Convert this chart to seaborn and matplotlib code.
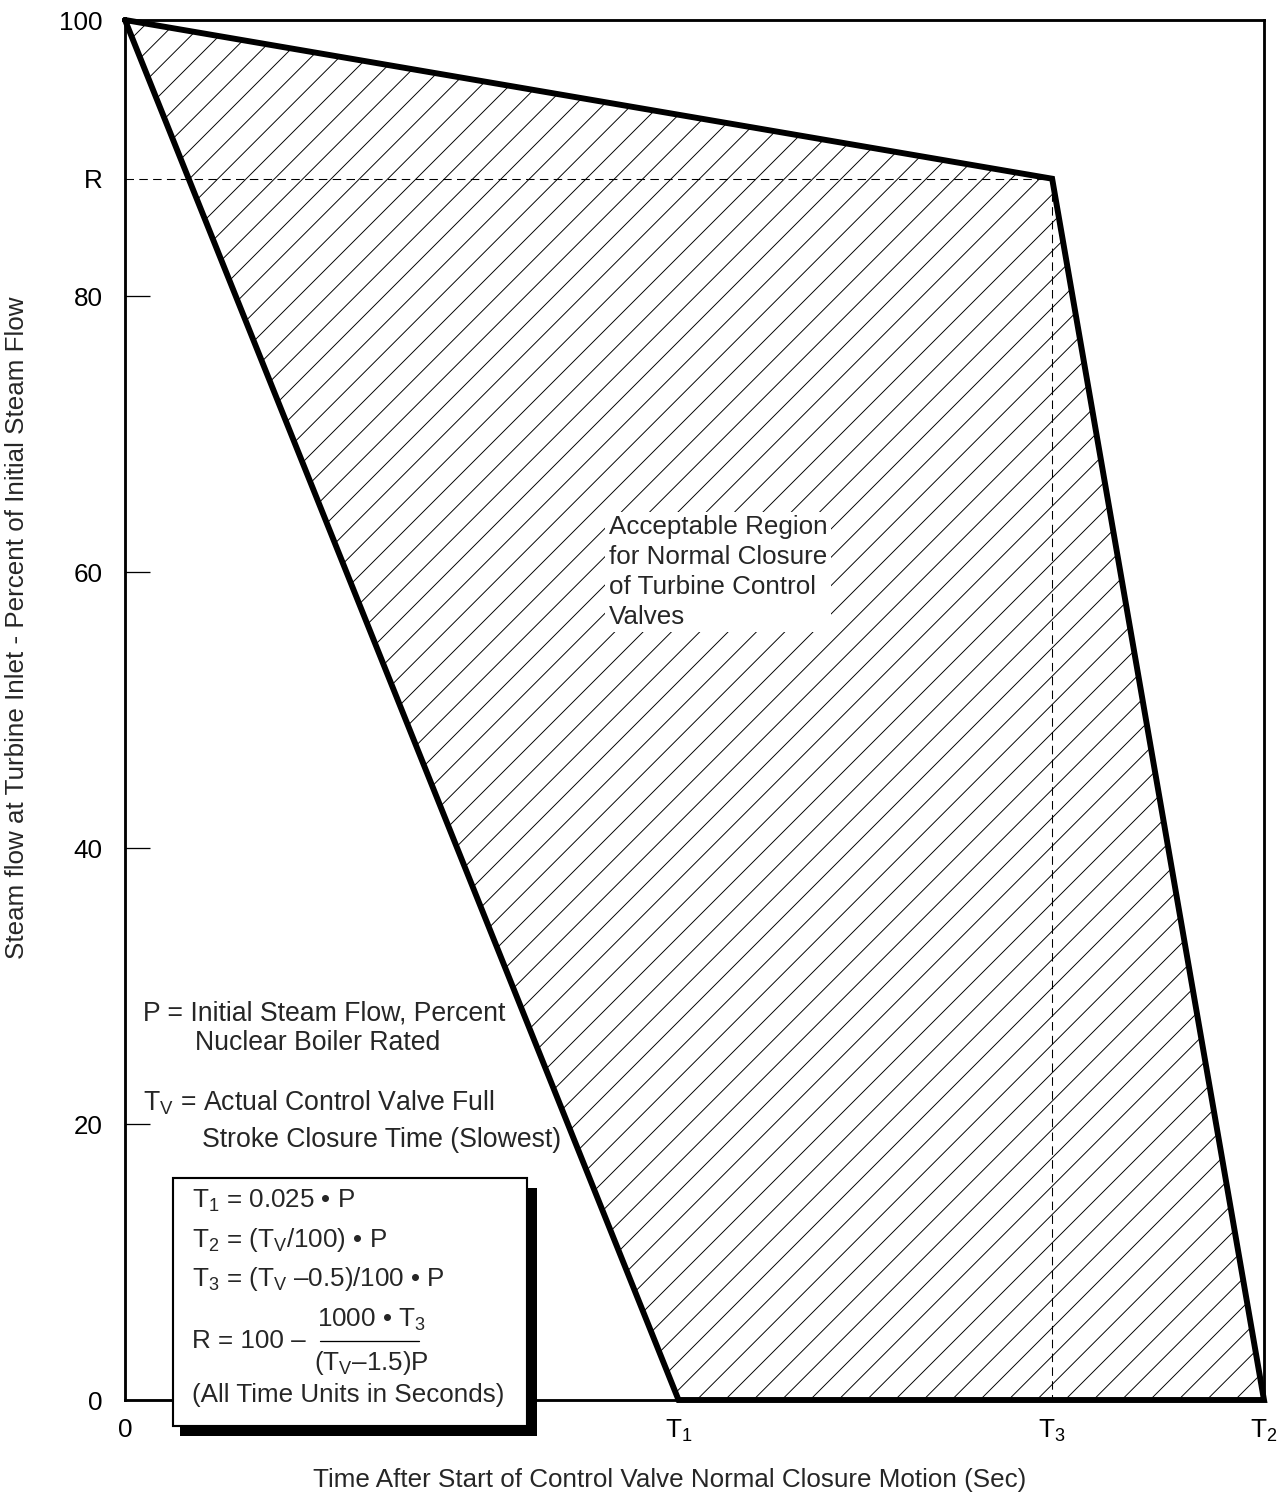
import numpy as np
import pandas as pd
import matplotlib
matplotlib.use('Agg')
import matplotlib.pyplot as plt
import matplotlib.patches as mpatches
import seaborn as sns

# schematic time points (sec) and flow breakpoint R (%)
t1 = 2.43
t3 = 4.07
t2 = 5.0
r_val = 88.5

region_x = [0, t3, t2, t1]
region_y = [100, r_val, 0, 0]

ytick_vals = [0, 20, 40, 60, 80, r_val, 100]
ytick_labels = ['0', '20', '40', '60', '80', 'R', '100']
xtick_vals = [0, t1, t3, t2]
xtick_labels = ['0', 'T$_1$', 'T$_3$', 'T$_2$']

sns.set_theme(style='ticks')
plt.rcParams['font.family'] = ['Liberation Sans', 'DejaVu Sans']
plt.rcParams['mathtext.fontset'] = 'custom'
plt.rcParams['mathtext.rm'] = 'Liberation Sans'
plt.rcParams['mathtext.default'] = 'regular'
plt.rcParams['hatch.color'] = 'black'
plt.rcParams['hatch.linewidth'] = 0.8

DPI = 85
FS = 22
FS2 = 22.5
fig = plt.figure(figsize=(1281 / DPI, 1500 / DPI), dpi=DPI)
ax = fig.add_axes([125 / 1281, 100 / 1500, 1139 / 1281, 1380 / 1500])

# hatched acceptable region
ax.fill(region_x, region_y, facecolor='white', edgecolor='black', lw=0,
        hatch='/', zorder=1)
df = pd.DataFrame({'t': region_x + [region_x[0]], 'flow': region_y + [region_y[0]]})
sns.lineplot(data=df, x='t', y='flow', sort=False, estimator=None, color='black',
             lw=5, ax=ax, zorder=5, clip_on=False)
for ln in ax.lines:
    ln.set_solid_joinstyle('miter')

# dashed guide lines at R and T3
ax.plot([0, t3], [r_val, r_val], color='black', lw=0.9, ls=(0, (8, 5)), zorder=3)
ax.plot([t3, t3], [r_val, 0], color='black', lw=0.9, ls=(0, (8, 5)), zorder=3)

ax.set_xlim(0, t2)
ax.set_ylim(0, 100)
ax.set_xlabel('')
ax.set_ylabel('')

ax.set_yticks(ytick_vals)
ax.set_yticklabels(ytick_labels, fontsize=FS)
ax.set_xticks(xtick_vals)
ax.set_xticklabels(xtick_labels, fontsize=FS)
ax.tick_params(axis='y', direction='in', length=21, width=1.1, pad=19, colors='black')
ax.tick_params(axis='x', length=0, pad=15, colors='black')
for i, v in enumerate(ytick_vals):
    if v in (0, r_val, 100):
        ax.yaxis.get_major_ticks()[i].tick1line.set_visible(False)

for s in ax.spines.values():
    s.set_visible(True)
    s.set_linewidth(2.4)
    s.set_color('black')


def pos(x, y):
    return ((x - 125) / 1139, (1400 - y) / 1380)


ax.text(*pos(609, 572), 'Acceptable Region\nfor Normal Closure\nof Turbine Control\nValves',
        transform=ax.transAxes, fontsize=FS, va='center', ha='left', linespacing=1.3,
        zorder=4, bbox=dict(facecolor='white', edgecolor='none', pad=3))

ax.text(*pos(143, 1013), 'P = Initial Steam Flow, Percent', transform=ax.transAxes,
        fontsize=FS2, va='center', ha='left')
ax.text(*pos(195, 1043), 'Nuclear Boiler Rated', transform=ax.transAxes,
        fontsize=FS2, va='center', ha='left')
ax.text(*pos(143, 1103), 'T$_\\mathrm{V}$ = Actual Control Valve Full', transform=ax.transAxes,
        fontsize=FS2, va='center', ha='left')
ax.text(*pos(202, 1140), 'Stroke Closure Time (Slowest)', transform=ax.transAxes,
        fontsize=FS2, va='center', ha='left')

# formula box with drop shadow
x0, y0 = pos(180, 1436)
x1, y1 = pos(537, 1188)
ax.add_patch(mpatches.Rectangle((x0, y0), x1 - x0, y1 - y0, transform=ax.transAxes,
                                facecolor='black', edgecolor='none', clip_on=False, zorder=8))
x0, y0 = pos(173, 1426)
x1, y1 = pos(527, 1178)
ax.add_patch(mpatches.Rectangle((x0, y0), x1 - x0, y1 - y0, transform=ax.transAxes,
                                facecolor='white', edgecolor='black', lw=1.8,
                                clip_on=False, zorder=9))

box_lines = [
    (192, 1201, 'T$_1$ = 0.025 • P'),
    (192, 1240, 'T$_2$ = (T$_\\mathrm{V}$/100) • P'),
    (192, 1279, 'T$_3$ = (T$_\\mathrm{V}$ –0.5)/100 • P'),
    (192, 1341, 'R = 100 –'),
    (317, 1320, '1000 • T$_3$'),
    (314, 1363, '(T$_\\mathrm{V}$–1.5)P'),
    (192, 1395, '(All Time Units in Seconds)'),
]
for bx, by, txt in box_lines:
    ax.text(*pos(bx, by), txt, transform=ax.transAxes, fontsize=FS,
            va='center', ha='left', zorder=10, clip_on=False)
fx0, fy = pos(320, 1341)
fx1, _ = pos(419, 1341)
ax.plot([fx0, fx1], [fy, fy], transform=ax.transAxes, color='black', lw=1.1,
        zorder=10, clip_on=False)

fig.text(670 / 1281, 1 - 1480 / 1500,
         'Time After Start of Control Valve Normal Closure Motion (Sec)',
         fontsize=FS, ha='center', va='center')
fig.text(17 / 1281, 1 - 628 / 1500,
         'Steam flow at Turbine Inlet - Percent of Initial Steam Flow',
         fontsize=FS, ha='center', va='center', rotation=90)

fig.savefig('out.png', dpi=DPI, facecolor='white')
